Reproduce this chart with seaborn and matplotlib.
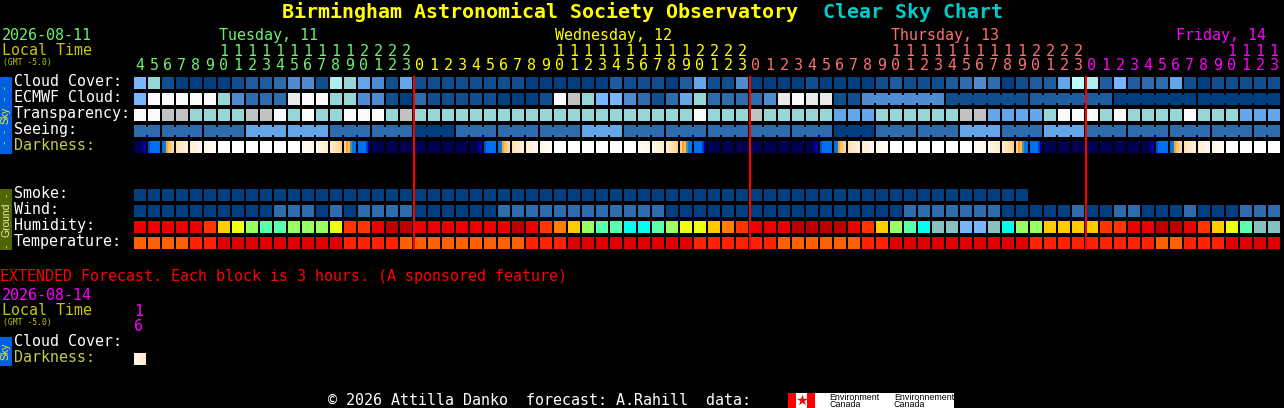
import matplotlib
matplotlib.use('Agg')
import numpy as np
import pandas as pd
import seaborn as sns
import matplotlib.pyplot as plt
from matplotlib.colors import ListedColormap, LinearSegmentedColormap

W, H = 1284, 408
PITCH = 14
MONO = 'DejaVu Sans Mono'

# hour of each block, one day colour per stretch
hours = [4, 5, 6, 7, 8, 9, 10, 11, 12, 13, 14, 15, 16, 17, 18, 19, 20, 21, 22, 23,
         0, 1, 2, 3, 4, 5, 6, 7, 8, 9, 10, 11, 12, 13, 14, 15, 16, 17, 18, 19, 20, 21, 22, 23,
         0, 1, 2, 3, 4, 5, 6, 7, 8, 9, 10, 11, 12, 13, 14, 15, 16, 17, 18, 19, 20, 21, 22, 23,
         0, 1, 2, 3, 4, 5, 6, 7, 8, 9, 10, 11, 12, 13]
day_names = ['Tuesday, 11', 'Wednesday, 12', 'Thursday, 13', 'Friday, 14']
day_colors = ['#70F070', '#FFFF00', '#FF7070', '#FF00FF']
day_starts = [0, 20, 44, 68]

sky_colors = ['#003F7F', '#0F4F8F', '#1C5C9F', '#2C6CAD', '#4F8BD0', '#63A6E9', '#77B5FE',
              '#96D6D6', '#AEEEEE', '#C2C2C2', '#EAEAEA', '#FBFBFB', '#BBFFFF']

cloud = [6, 7, 1, 0, 0, 0, 0, 1, 2, 2, 3, 4, 4, 1, 8, 7, 5, 4, 1, 5,
         1, 1, 1, 1, 1, 1, 1, 1, 0, 0, 0, 0, 0, 0, 2, 1, 1, 1, 0, 2, 5, 1, 1, 4,
         0, 0, 0, 0, 1, 0, 0, 0, 0, 1, 2, 1, 1, 1, 2, 3, 4, 3, 0, 1, 2, 2, 5, 12,
         8, 2, 6, 2, 3, 3, 5, 1, 0, 1, 1, 1, 1, 1]
ecmwf = [6, 11, 11, 11, 11, 11, 7, 4, 3, 3, 3, 10, 11, 11, 7, 7, 4, 4, 1, 0,
         3, 1, 1, 1, 1, 1, 0, 0, 0, 1, 11, 9, 7, 6, 6, 4, 3, 1, 3, 5, 7, 3, 3, 3,
         3, 4, 10, 11, 10, 10, 1, 1, 4, 4, 4, 4, 4, 4, 1, 1, 1, 1, 1, 1, 2, 2, 2, 2,
         2, 2, 0, 0, 0, 0, 0, 0, 0, 0, 0, 0, 0, 0]
transparency = [11, 11, 9, 9, 7, 7, 7, 7, 9, 9, 11, 7, 11, 7, 7, 11, 11, 11, 7, 9,
                7, 7, 7, 7, 7, 7, 7, 7, 7, 7, 7, 7, 7, 7, 7, 7, 7, 7, 7, 7, 11, 7, 7, 7,
                9, 7, 7, 7, 7, 7, 5, 5, 5, 7, 7, 7, 7, 7, 7, 9, 9, 5, 5, 5, 5, 7, 11, 11,
                11, 7, 11, 7, 7, 7, 7, 11, 7, 7, 7, 5, 5, 5]
seeing = [3, 3, 3, 3, 3, 3, 3, 3, 5, 5, 5, 5, 5, 5, 3, 3, 3, 3, 3, 3,
          0, 0, 0, 3, 3, 3, 3, 3, 3, 3, 3, 3, 5, 5, 5, 3, 3, 3, 3, 3, 3, 3, 3, 3,
          3, 3, 3, 3, 3, 3, 0, 0, 0, 3, 3, 3, 3, 3, 3, 5, 5, 5, 3, 3, 3, 5, 5, 5,
          3, 3, 3, 3, 3, 3, 3, 3, 3, 3, 3, 3, 3, 3]
seeing_blocks = [2] + [3] * 26 + [2]
ecmwf_blocks = [1] * 52 + [6] * 5

# colour stops of the darkness scale, night to full daylight
dark_stops = ['#000050', '#0000A0', '#0040C0', '#0070F0', '#0080D0', '#80A080',
              '#FFA030', '#FFC060', '#FFD090', '#FFE8C0', '#FFF4E4', '#FFFFFF']
# one block of the darkness row, six 2px steps on the scale above
dark_kinds = {
    'N': [0.00, 0.00, 0.00, 0.00, 0.00, 0.00],
    'E': [0.00, 0.00, 0.00, 0.00, 0.08, 0.09],
    'B': [0.21, 0.27, 0.27, 0.27, 0.27, 0.27],
    'D': [0.30, 0.35, 0.56, 0.65, 0.70, 0.75],
    '1': [0.80, 0.82, 0.84, 0.85, 0.86, 0.87],
    '2': [0.86, 0.88, 0.89, 0.90, 0.92, 0.94],
    '3': [0.92, 0.93, 0.94, 0.96, 0.97, 0.98],
    'W': [1.00, 1.00, 1.00, 1.00, 1.00, 1.00],
    'a': [0.95, 0.96, 0.95, 0.93, 0.92, 0.91],
    'b': [0.93, 0.91, 0.89, 0.87, 0.85, 0.84],
    'c': [0.85, 0.82, 0.80, 0.78, 0.76, 0.73],
    'S': [0.72, 0.55, 0.62, 0.42, 0.33, 0.28],
    'K': [0.27, 0.27, 0.27, 0.27, 0.18, 0.09],
}
darkness = ['E', 'B', 'D', '1', '2', '3', 'W', 'W', 'W', 'W', 'W', 'W', 'a', 'b', 'c', 'S', 'K', 'N', 'N', 'N',
            'N', 'N', 'N', 'N', 'E', 'B', 'D', '1', '2', '3', 'W', 'W', 'W', 'W', 'W', 'W', 'a', 'b', 'c', 'S', 'K', 'N', 'N', 'N',
            'N', 'N', 'N', 'N', 'E', 'B', 'D', '1', '2', '3', 'W', 'W', 'W', 'W', 'W', 'W', 'a', 'b', 'c', 'S', 'K', 'N', 'N', 'N',
            'N', 'N', 'N', 'N', 'E', 'B', 'D', '1', '2', '3', 'W', 'W', 'W', 'W']

ground_colors = ['#003F7F', '#2C6CAD', '#BB0000', '#EA0000', '#FF3300', '#FF8000', '#FFCC00',
                 '#EEFF11', '#99FF66', '#5BFFB0', '#00FFEE', '#88C0C0', '#77B5FE',
                 '#FF6000', '#E00000', '#FF2200']

smoke = [0] * 64 + [np.nan] * 18
wind = [0, 0, 0, 0, 0, 0, 0, 0, 0, 0, 1, 1, 1, 0, 1, 0, 1, 1, 1, 1,
        0, 0, 0, 0, 0, 0, 1, 1, 1, 1, 1, 1, 1, 1, 1, 1, 1, 1, 0, 0, 0, 0, 0, 0,
        0, 0, 0, 0, 0, 0, 0, 0, 0, 0, 0, 1, 1, 1, 1, 1, 1, 1, 0, 0, 0, 0, 0, 1,
        0, 0, 1, 1, 0, 0, 0, 1, 0, 0, 0, 1, 1, 1]
humidity = [3, 3, 3, 3, 3, 4, 6, 7, 8, 9, 9, 8, 8, 8, 7, 4, 4, 3, 2, 2,
            3, 3, 3, 3, 3, 3, 3, 2, 3, 4, 5, 6, 8, 9, 9, 10, 10, 9, 8, 7, 7, 6, 5, 4,
            3, 3, 3, 2, 2, 2, 2, 3, 4, 6, 8, 9, 10, 11, 11, 12, 12, 11, 10, 8, 8, 6, 6, 6,
            6, 4, 4, 3, 3, 2, 2, 3, 4, 6, 7, 9, 11, 11]
temperature = [13, 13, 13, 13, 15, 15, 14, 14, 14, 14, 14, 14, 14, 14, 14, 15, 15, 15, 15, 13,
               13, 13, 13, 13, 13, 13, 13, 13, 15, 15, 15, 14, 14, 14, 14, 14, 14, 14, 14, 14, 15, 15, 15, 15,
               15, 15, 13, 13, 13, 13, 13, 13, 15, 15, 14, 14, 14, 14, 14, 14, 14, 14, 14, 14, 15, 15, 15, 15,
               15, 15, 15, 15, 15, 13, 13, 15, 15, 15, 14, 14, 14, 14]

ext_hour = [16]
ext_darkness = ['b']

sky_rows = [('Cloud Cover:', cloud, 77), ('ECMWF Cloud:', ecmwf, 93),
            ('Transparency:', transparency, 109), ('Seeing:', seeing, 125)]
ground_rows = [('Smoke:', smoke, 189), ('Wind:', wind, 205),
               ('Humidity:', humidity, 221), ('Temperature:', temperature, 237)]


def px_axes(x, y, w, h):
    ax = fig.add_axes([x / W, 1 - (y + h) / H, w / W, h / H])
    ax.set_facecolor('black')
    return ax


def row_label(ax, text, y, color='white'):
    # row name sits left of the blocks, left aligned at x=14
    ax.set_yticks([y])
    ax.set_yticklabels([text], rotation=0, ha='left', va='center', family=MONO, fontsize=10.8, color=color)
    ax.tick_params(axis='y', left=False, length=0, pad=(ax.get_position().x0 * W - 14) * 0.72)


def block_row(values, palette, top, label):
    # 14px cell with a 2px black edge leaves a 12px block, rows sit 16px apart
    ax = px_axes(133, top - 1, PITCH * len(values), 14)
    frame = pd.DataFrame([values], index=[label])
    sns.heatmap(frame, ax=ax, cmap=ListedColormap(palette), vmin=-0.5, vmax=len(palette) - 0.5,
                cbar=False, linewidths=1.44, linecolor='black', xticklabels=False)
    ax.set_xlabel('')
    row_label(ax, label, 0.38)
    return ax


def dark_row(kinds, top, label):
    cmap = LinearSegmentedColormap.from_list('dark', dark_stops)
    steps = []
    for kind in kinds:
        steps += dark_kinds[kind] + [np.nan]
    ax = px_axes(134, top, PITCH * len(kinds), 12)
    sns.heatmap(pd.DataFrame([steps]), ax=ax, cmap=cmap, vmin=0, vmax=1, cbar=False, xticklabels=False)
    ax.set_xlabel('')
    row_label(ax, label, 0.36, '#C8C850')
    return ax


def connect(ax, values, blocks):
    # joined blocks share a narrow bridge across the gap
    col = 0
    for size in blocks:
        for c in range(col + 1, col + size):
            ax.barh(0.5, 2 / PITCH, left=c - 1 / PITCH, height=8 / 14, color=sky_colors[values[c]], linewidth=0)
        col += size


sns.set_theme(style='dark', rc={'axes.facecolor': 'black', 'figure.facecolor': 'black',
                                'axes.edgecolor': 'black'})
fig = plt.figure(figsize=(W / 100, H / 100), dpi=100, facecolor='black')

sky_axes = {}
for name, vals, top in sky_rows:
    sky_axes[name] = block_row(vals, sky_colors, top, name)
for name, vals, top in ground_rows:
    block_row(vals, ground_colors, top, name)
connect(sky_axes['ECMWF Cloud:'], ecmwf, ecmwf_blocks)
connect(sky_axes['Seeing:'], seeing, seeing_blocks)
dark_row(darkness, 141, 'Darkness:')

# hour labels over the first row, tens digit stacked on the units digit
top_ax = sky_axes['Cloud Cover:']
top_ax.xaxis.tick_top()
top_ax.set_xticks(np.arange(len(hours)) + 0.5)
top_ax.set_xticklabels(['\n'.join(str(h)) for h in hours], rotation=0, family=MONO, fontsize=10.8,
                       linespacing=0.95, va='bottom')
top_ax.tick_params(axis='x', top=False, length=0, pad=2.2)
for i, tick in enumerate(top_ax.get_xticklabels()):
    day = sum(i >= s for s in day_starts) - 1
    tick.set_color(day_colors[day])

# extended forecast
dark_row(ext_darkness, 353, 'Darkness:')
cloud_ext = px_axes(134, 337, PITCH, 12)
cloud_ext.set_xlim(0, 1)
cloud_ext.set_ylim(1, 0)
cloud_ext.xaxis.tick_top()
cloud_ext.set_xticks([0.35])
cloud_ext.set_xticklabels(['\n'.join(str(h)) for h in ext_hour], family=MONO, fontsize=10.8, color='#FF00FF',
                          linespacing=0.95, va='bottom')
cloud_ext.tick_params(axis='x', top=False, length=0, pad=2.5)
row_label(cloud_ext, 'Cloud Cover:', 0.36)

# everything else is placed in pixels on a full-figure layer
ov = fig.add_axes([0, 0, 1, 1], zorder=10)
ov.set_xlim(0, W)
ov.set_ylim(H, 0)
ov.axis('off')
ov.patch.set_alpha(0)


def txt(x, y, s, color='white', size=10.8, **kw):
    kw.setdefault('family', MONO)
    kw.setdefault('ha', 'left')
    kw.setdefault('va', 'baseline')
    ov.text(x, y, s, color=color, fontsize=size, **kw)


txt(282, 18, 'Birmingham Astronomical Society Observatory', '#FFFF00', 14.4, fontweight='bold')
txt(823, 18, 'Clear Sky Chart', '#00CCCC', 14.4, fontweight='bold')

txt(2, 40, '2026-08-11', '#70F070')
txt(2, 55, 'Local Time', '#C8C800')
txt(3, 65, '(GMT -5.0)', '#C8C800', 5.8)
for name, col, start in zip(day_names, day_colors, [219, 555, 891, 1176]):
    txt(start, 40, name, col)

for start in day_starts[1:]:
    ov.vlines(134 + PITCH * start, 76, 250, color='#FF0000', linewidth=1.44, zorder=5)

# side tags
ov.fill_between([0, 12], 77, 154, color='#0060E0', linewidth=0)
ov.fill_between([0, 12], 189, 250, color='#4F6600', linewidth=0)
ov.fill_between([0, 12], 337, 366, color='#0060E0', linewidth=0)
sans = 'Liberation Sans'
for y, s in [(93, '- -'), (137, '- -')]:
    txt(6, y, s, '#F0F020', 6.5, rotation=90, ha='center', va='center')
txt(6, 115, 'Sky', '#F0F020', 7.5, rotation=90, ha='center', va='center', family=sans)
txt(6, 194, '-', '#E8E8C0', 6.5, rotation=90, ha='center', va='center')
txt(6, 219.5, 'Ground', '#E8E8C0', 7.5, rotation=90, ha='center', va='center', family=sans)
txt(6, 245, '-', '#E8E8C0', 6.5, rotation=90, ha='center', va='center')
txt(6, 351, 'Sky', '#F0F020', 7.5, rotation=90, ha='center', va='center', family=sans)

txt(0, 281, 'EXTENDED Forecast. Each block is 3 hours. (A sponsored feature)', '#FF0000')
txt(2, 300, '2026-08-14', '#FF00FF')
txt(2, 315, 'Local Time', '#C8C800')
txt(3, 325, '(GMT -5.0)', '#C8C800', 5.8)

txt(328, 405, '\u00a9 2026 Attilla Danko  forecast: A.Rahill  data:')

# Environment Canada signature
ov.fill_between([815, 954], 393, 408, color='white', linewidth=0)
ov.fill_between([788, 796], 393, 408, color='#FF0000', linewidth=0)
ov.fill_between([796, 807], 393, 408, color='white', linewidth=0)
ov.fill_between([807, 815], 393, 408, color='#FF0000', linewidth=0)
ov.scatter([801.5], [400], marker='*', s=70, color='#FF0000', linewidth=0)
for x, line1, line2 in [(829, 'Environment', 'Canada'), (894, 'Environnement', 'Canada')]:
    txt(x, 400, line1, 'black', 6.4, family=sans)
    txt(x, 407, line2, 'black', 6.4, family=sans)

fig.savefig('out.png', dpi=100, facecolor='black')
